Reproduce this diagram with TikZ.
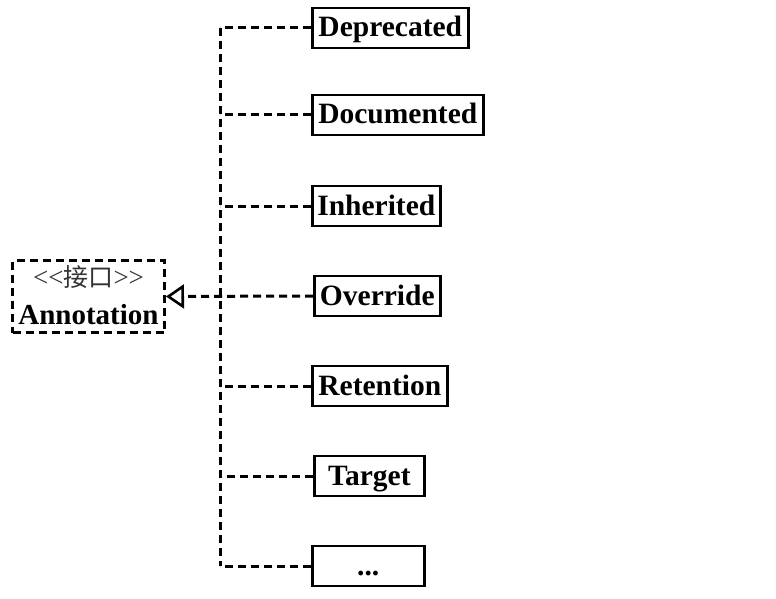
\documentclass[tikz,border=0pt]{standalone}
\usepackage{fontspec}
\setmainfont{Liberation Serif}
\newfontfamily\cjk{Noto Sans CJK SC}
\usetikzlibrary{arrows.meta}
\tikzset{
  cls/.style={draw, line width=2.6pt, minimum height=40pt, inner xsep=4pt, text height=18pt, text depth=0pt, font=\fontsize{29.5}{32}\selectfont\bfseries, anchor=west},
  dline/.style={line width=3pt, dash pattern=on 8pt off 5pt},
}
\begin{document}
\begin{tikzpicture}[x=1pt,y=-1pt]
\useasboundingbox (0,0) rectangle (776,599);
\node[cls, minimum width=156pt] (dep) at (311,28) {Deprecated};
\node[cls, minimum width=171pt] (doc) at (311,115) {Documented};
\node[cls, minimum width=128pt] (inh) at (311,206) {Inherited};
\node[cls, minimum width=126pt] (ovr) at (313,296) {Override};
\node[cls, minimum width=135pt] (ret) at (311,386) {Retention};
\node[cls, minimum width=110pt] (tgt) at (313,476) {Target};
\node[cls, minimum width=112pt] (etc) at (311,566) {...};
\node[dline, draw, minimum width=152pt, minimum height=72pt, inner sep=0pt] (ann) at (88.5,296.5) {};
\node[font=\fontsize{27}{30}\selectfont, text=black!80] (st) at (88.5,277) {{<}{<}{\cjk\fontsize{25}{28}\selectfont 接口}{>}{>}};
\node[font=\fontsize{29}{32}\selectfont\bfseries] (an) at (88.5,315) {Annotation};
\coordinate (top) at (220,28);
\coordinate (bot) at (220,566);
\draw[dline] (top) -- (bot);
\foreach \n in {dep,doc,inh,ret,tgt,etc} {
  \draw[dline] (\n.west) -- (\n.west -| top);
}
\draw[dline, -{Triangle[open, length=18pt, width=24pt, line width=2.6pt]}] (ovr.west) -- (ann.east);
\end{tikzpicture}
\end{document}
